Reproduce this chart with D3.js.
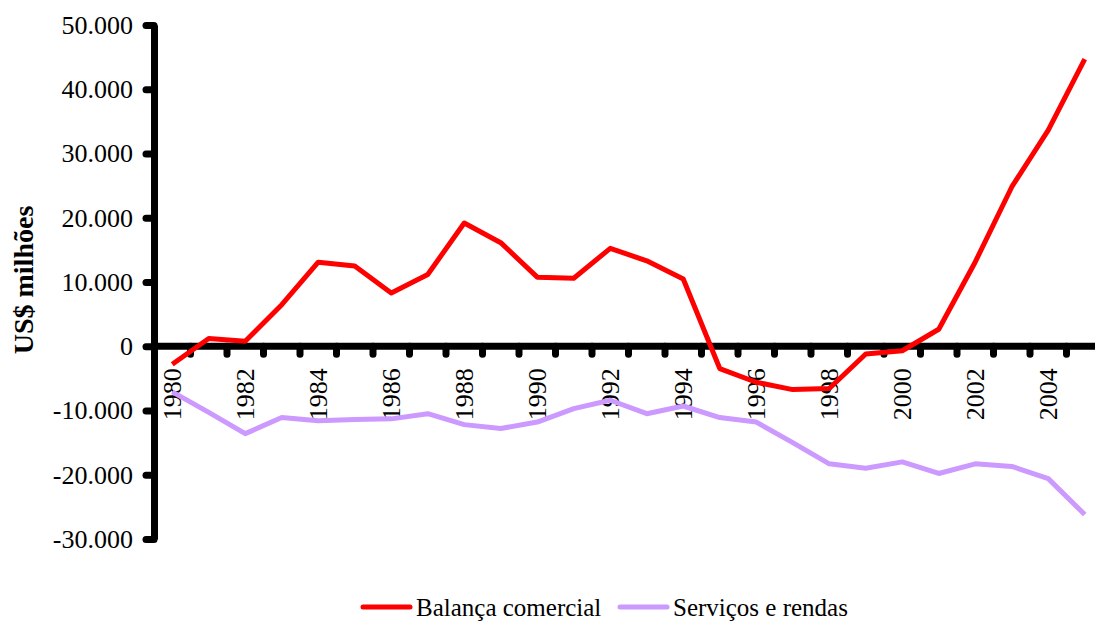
<!DOCTYPE html>
<html>
<head>
<meta charset="utf-8">
<script src="https://cdn.jsdelivr.net/npm/d3@7"></script>
<style>
  body { margin: 0; background: #fff; }
  svg text { font-family: "Liberation Serif", "Times New Roman", "DejaVu Serif", serif; fill: #000; }
</style>
</head>
<body>
<div id="chart"></div>
<script>
const years = d3.range(1980, 2006)
const balancaComercial = [
  -2800, 1200, 780, 6470, 13090, 12490, 8300, 11170, 19180, 16120,
  10750, 10580, 15240, 13300, 10470, -3470, -5600, -6750, -6580, -1200,
  -700, 2650, 13120, 24790, 33640, 44700
]
const servicosRendas = [
  -7100, -10300, -13600, -11100, -11600, -11400, -11300, -10500, -12200, -12800,
  -11800, -9700, -8400, -10500, -9300, -11100, -11800, -15000, -18300, -19000,
  -18000, -19800, -18300, -18700, -20600, -26200
]
const yTicks = [-30000, -20000, -10000, 0, 10000, 20000, 30000, 40000, 50000]
const seriesNames = ['Balança comercial', 'Serviços e rendas']
const seriesColors = ['#ff0000', '#cc99ff']

const width = 1095
const height = 622
const margin = { left: 154, top: 25, bottom: 83 }
const serif = '"Liberation Serif", "Times New Roman", "DejaVu Serif", serif'

const fmt = d3.formatLocale({ decimal: ',', thousands: '.', grouping: [3], currency: ['', ''], minus: '-' }).format(',')

const svg = d3.select('#chart')
  .append('svg')
  .attr('width', width)
  .attr('height', height)

const x = d3.scaleBand().domain(years).range([margin.left, margin.left + 36.5 * years.length])
const y = d3.scaleLinear().domain([-30000, 50000]).range([height - margin.bottom, margin.top])

// y axis
const yAxis = svg.append('g')
  .attr('transform', 'translate(' + margin.left + ',0)')
  .call(d3.axisLeft(y).tickValues(yTicks).tickFormat(fmt).tickSize(8).tickSizeOuter(0).tickPadding(13))
yAxis.attr('font-family', serif).attr('font-size', 26)
yAxis.select('.domain').attr('stroke-width', 7)
yAxis.selectAll('.tick line').attr('stroke-width', 7).attr('stroke-linecap', 'round')
yAxis.selectAll('.tick text').attr('fill', '#000')

// x axis at zero
const xg = svg.append('g').attr('transform', 'translate(0,' + y(0) + ')')
xg.append('line')
  .attr('x1', margin.left).attr('x2', x.range()[1])
  .attr('stroke', '#000').attr('stroke-width', 7)
xg.selectAll('.xtick')
  .data(years.slice(1))
  .join('line')
  .attr('class', 'xtick')
  .attr('x1', d => x(d)).attr('x2', d => x(d))
  .attr('y1', 0).attr('y2', 8)
  .attr('stroke', '#000').attr('stroke-width', 7).attr('stroke-linecap', 'round')
xg.selectAll('.xlabel')
  .data(years.filter(d => d % 2 === 0))
  .join('text')
  .attr('class', 'xlabel')
  .attr('transform', d => 'translate(' + (x(d) + x.bandwidth() / 2) + ',22) rotate(-90)')
  .attr('text-anchor', 'end')
  .attr('dy', '0.35em')
  .style('font-size', '26px')
  .text(d => d)

// y title
svg.append('text')
  .attr('transform', 'translate(23,' + 280 + ') rotate(-90)')
  .attr('text-anchor', 'middle')
  .attr('dy', '0.35em')
  .style('font-size', '28px')
  .style('font-weight', 'bold')
  .text('US$ milhões')

// lines
const line = d3.line().x((d, i) => x(years[i]) + x.bandwidth() / 2).y(d => y(d))
;[balancaComercial, servicosRendas].forEach((s, i) => {
  svg.append('path')
    .datum(s)
    .attr('d', line)
    .attr('fill', 'none')
    .attr('stroke', seriesColors[i])
    .attr('stroke-width', 5)
    .attr('stroke-linejoin', 'round')
})

// legend
const legendX = [363, 620]
const legend = svg.append('g').attr('transform', 'translate(0,607)')
seriesNames.forEach((name, i) => {
  legend.append('line')
    .attr('x1', legendX[i]).attr('x2', legendX[i] + 47)
    .attr('stroke', seriesColors[i]).attr('stroke-width', 5).attr('stroke-linecap', 'round')
  legend.append('text')
    .attr('x', legendX[i] + 53)
    .attr('dy', '0.35em')
    .style('font-size', '25px')
    .text(name)
})
</script>
</body>
</html>
